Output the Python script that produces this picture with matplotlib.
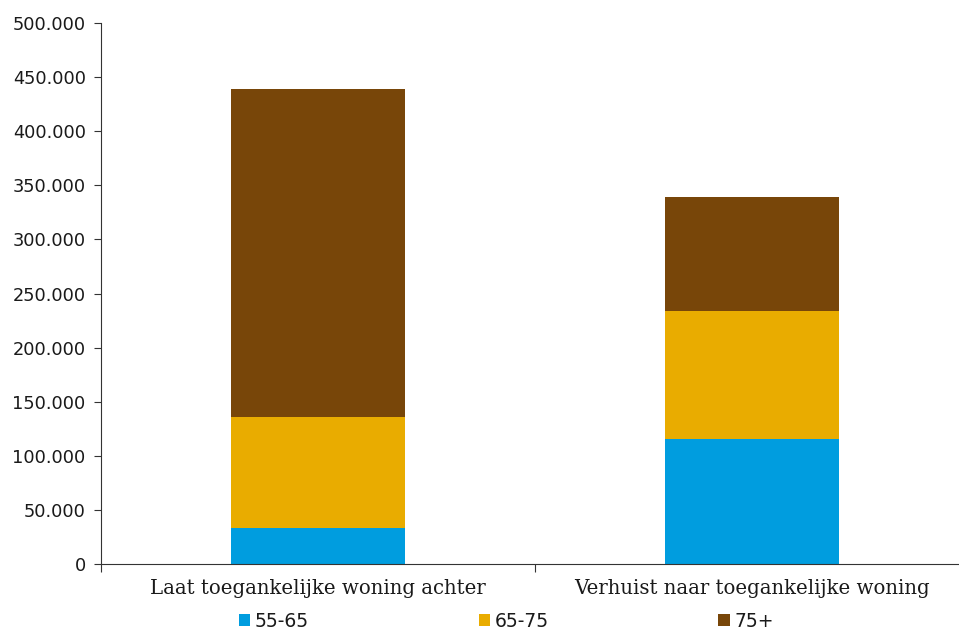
import matplotlib.pyplot as plt
import numpy as np
from matplotlib.ticker import FuncFormatter

categories = ["Laat toegankelijke woning achter", "Verhuist naar toegankelijke woning"]
age_groups = ["55-65", "65-75", "75+"]
values_55_65 = [33000, 115500]
values_65_75 = [103000, 118500]
values_75_plus = [303000, 105000]
colors = ["#009ddf", "#e9ac00", "#784609"]

fig = plt.figure(figsize=(9.59, 6.32), dpi=100)
# axis runs slightly past the right edge of the figure, as in the original
ax = fig.add_axes([0.1053, 0.1076, 0.905, 0.856])

x = np.arange(len(categories))
bottom = np.zeros(len(categories))
for label, vals, color in zip(age_groups, [values_55_65, values_65_75, values_75_plus], colors):
    ax.bar(x, vals, width=0.4, bottom=bottom, color=color, label=label, linewidth=0)
    bottom += np.array(vals)

ax.set_xlim(-0.5, len(categories) - 0.5)
ax.set_ylim(0, 500000)
ax.set_yticks(np.arange(0, 500001, 50000))
ax.yaxis.set_major_formatter(FuncFormatter(lambda v, _: f"{int(v):,}".replace(",", ".")))
ax.tick_params(axis="y", labelsize=12.8, length=5, color="#333333", labelcolor="#1a1a1a", pad=6)

ax.set_xticks([-0.5, 0.5, 1.5])
ax.set_xticklabels([])
ax.set_xticks(x, minor=True)
ax.set_xticklabels(categories, minor=True, fontsize=14.2, family="DejaVu Serif", color="#1a1a1a")
ax.tick_params(axis="x", which="major", length=6, color="#333333")
ax.tick_params(axis="x", which="minor", length=0, pad=11)

for side in ["top", "right"]:
    ax.spines[side].set_visible(False)
for side in ["left", "bottom"]:
    ax.spines[side].set_color("#333333")

handles, labels = ax.get_legend_handles_labels()
fig.legend(handles, labels, loc="center", bbox_to_anchor=(0.528, 0.017), ncol=3, frameon=False,
           fontsize=13.5, handlelength=0.6, handleheight=0.6, handletextpad=0.25, columnspacing=9.05,
           labelcolor="#1a1a1a", borderpad=0.1)

fig.savefig("out.png", dpi=100)
